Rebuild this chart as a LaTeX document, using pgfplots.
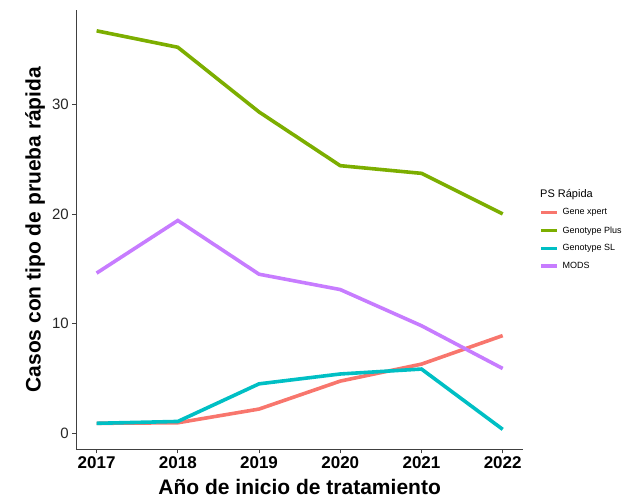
\documentclass[border=0pt]{standalone}
\usepackage{pgfplots}
\pgfplotsset{compat=1.18}
\usepackage{fontspec}
\setmainfont{Liberation Sans}

\definecolor{cgene}{HTML}{F8766D}
\definecolor{cplus}{HTML}{7CAE00}
\definecolor{csl}{HTML}{00BFC4}
\definecolor{cmods}{HTML}{C77CFF}

\begin{document}
\begin{tikzpicture}
\path[use as bounding box] (-76.3pt,-48.7pt) rectangle (547.7pt,449.3pt);
\begin{axis}[
    at={(0pt,0pt)}, anchor=south west,
    scale only axis,
    width=446.7pt, height=439.3pt,
    xmin=2016.75, xmax=2022.25,
    ymin=-1.47, ymax=38.6,
    axis x line=bottom, axis y line=left,
    axis line style={-, black!75, line width=0.8pt},
    clip=false,
    xtick={2017,2018,2019,2020,2021,2022},
    ytick={0,10,20,30},
    tick align=outside,
    major tick length=4pt,
    tick style={black!75, line width=0.8pt},
    /pgf/number format/1000 sep={},
    /pgf/number format/assume math mode=true,
    xticklabel style={font=\bfseries\fontsize{17}{17}\selectfont, text=black},
    yticklabel style={font=\fontsize{15}{15}\selectfont, text=black!85},
    xlabel={Año de inicio de tratamiento},
    ylabel={Casos con tipo de prueba rápida},
    xlabel style={font=\bfseries\fontsize{21}{21}\selectfont, at={(axis description cs:0.5,-0.0858)}, anchor=center},
    ylabel style={font=\bfseries\fontsize{21}{21}\selectfont, at={(axis description cs:-0.0925,0.5)}, anchor=center},
    legend style={
        at={(rel axis cs:1.0355,0.5527)}, anchor=north west,
        draw=none, fill=none, inner sep=0pt,
        font=\fontsize{9}{11}\selectfont,
        row sep=6pt,
        cells={anchor=west},
        /tikz/every odd column/.append style={column sep=2pt},
    },
    legend image code/.code={\draw[line width=3.6pt,#1] (0pt,0pt) -- (16pt,0pt);},
    every axis plot/.append style={line width=3.6pt, no markers},
]
\addplot[cgene] coordinates {(2017,0.9) (2018,0.95) (2019,2.2) (2020,4.75) (2021,6.3) (2022,8.9)};
\addlegendentry{Gene xpert}
\addplot[cplus] coordinates {(2017,36.7) (2018,35.2) (2019,29.3) (2020,24.4) (2021,23.7) (2022,20.0)};
\addlegendentry{Genotype Plus}
\addplot[csl] coordinates {(2017,0.9) (2018,1.07) (2019,4.5) (2020,5.4) (2021,5.85) (2022,0.35)};
\addlegendentry{Genotype SL}
\addplot[cmods] coordinates {(2017,14.6) (2018,19.4) (2019,14.5) (2020,13.1) (2021,9.8) (2022,5.9)};
\addlegendentry{MODS}
\node[anchor=west, inner sep=0pt, font=\fontsize{11}{11}\selectfont] at (rel axis cs:1.038,0.579) {PS Rápida};
\end{axis}
\end{tikzpicture}
\end{document}
